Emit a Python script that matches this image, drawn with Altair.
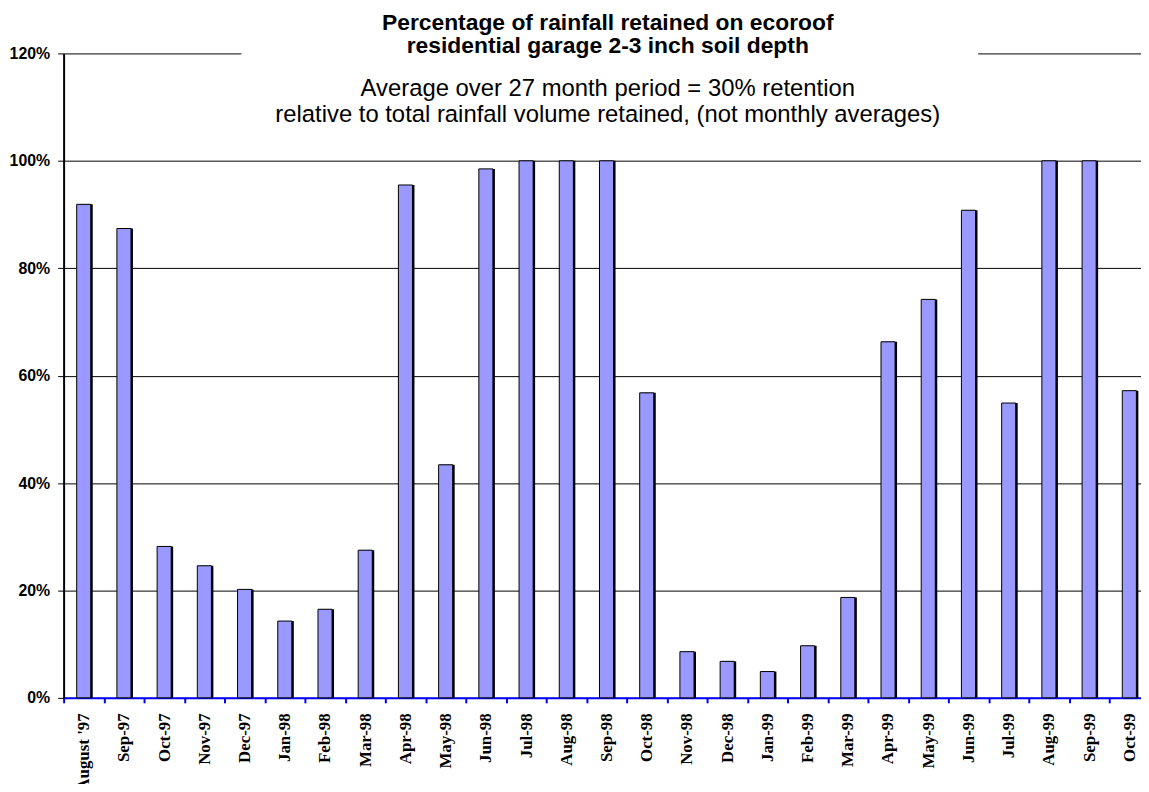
import altair as alt
import pandas as pd

months = ["August '97", "Sep-97", "Oct-97", "Nov-97", "Dec-97", "Jan-98", "Feb-98", "Mar-98",
          "Apr-98", "May-98", "Jun-98", "Jul-98", "Aug-98", "Sep-98", "Oct-98", "Nov-98",
          "Dec-98", "Jan-99", "Feb-99", "Mar-99", "Apr-99", "May-99", "Jun-99", "Jul-99",
          "Aug-99", "Sep-99", "Oct-99"]
retained = [91.9, 87.4, 28.2, 24.6, 20.2, 14.3, 16.5, 27.5,
            95.5, 43.4, 98.5, 100, 100, 100, 56.8, 8.6,
            6.8, 4.9, 9.7, 18.7, 66.3, 74.2, 90.8, 54.9,
            100, 100, 57.2]
y_ticks = [0, 20, 40, 60, 80, 100, 120]
title_lines = ["Percentage of rainfall retained on ecoroof",
               "residential garage 2-3 inch soil depth"]
subtitle_lines = ["Average over 27 month period = 30% retention",
                  "relative to total rainfall volume retained, (not monthly averages)"]

df = pd.DataFrame({"month": months, "pct": retained})

W, H = 1085, 649

x_enc = alt.X("month:N", sort=months,
              scale=alt.Scale(range=[0, 1093.5], paddingInner=0, paddingOuter=0),
              axis=alt.Axis(title=None, labelAngle=-90, labelFont="Liberation Serif",
                            labelFontWeight="bold", labelFontSize=17, labelColor="black",
                            labelPadding=10, domainColor="#0000FF", domainWidth=2,
                            tickColor="#0000FF", tickWidth=2, tickSize=5,
                            tickBand="extent", grid=False))
y_enc = alt.Y("pct:Q", scale=alt.Scale(domain=[0, 120], nice=False),
              axis=alt.Axis(title=None, values=y_ticks, labelExpr="datum.value + '%'",
                            labelFont="Liberation Sans", labelFontWeight="bold",
                            labelFontSize=16, labelColor="black", labelPadding=8,
                            domainColor="black", domainWidth=2, tickColor="black",
                            tickSize=6, tickWidth=1, grid=True, gridColor="black",
                            gridWidth=1, gridOpacity=1))

shadow = alt.Chart(df).mark_bar(color="black", xOffset=2,
                                width=alt.RelativeBandSize(0.35)).encode(x=x_enc, y=y_enc)
bars = alt.Chart(df).mark_bar(color="#9999FF", stroke="black", strokeWidth=1,
                              width=alt.RelativeBandSize(0.35)).encode(x=x_enc, y=y_enc)

blank = alt.Data(values=[{}])
title_bg = alt.Chart(blank).mark_rect(color="white").encode(
    x=alt.value(179), x2=alt.value(921), y=alt.value(-4), y2=alt.value(4))

texts = []
for i, t in enumerate(title_lines):
    texts.append(alt.Chart(alt.Data(values=[{"t": t}])).mark_text(
        font="Liberation Sans", fontWeight="bold", fontSize=23, color="black",
        align="center", baseline="middle").encode(
        text="t:N", x=alt.value(548), y=alt.value(-31 + 24 * i)))
for i, t in enumerate(subtitle_lines):
    texts.append(alt.Chart(alt.Data(values=[{"t": t}])).mark_text(
        font="Liberation Sans", fontSize=24, color="black",
        align="center", baseline="middle").encode(
        text="t:N", x=alt.value(548), y=alt.value(36 + 26 * i)))

chart = alt.layer(shadow, bars, title_bg, *texts).properties(
    width=W, height=H,
    autosize=alt.AutoSizeParams(type="none"),
    padding={"left": 56, "top": 43, "right": 0, "bottom": 84},
    background="white",
).configure_view(stroke=None)

chart.save("out.html", embed_options={"renderer": "svg", "actions": False})
